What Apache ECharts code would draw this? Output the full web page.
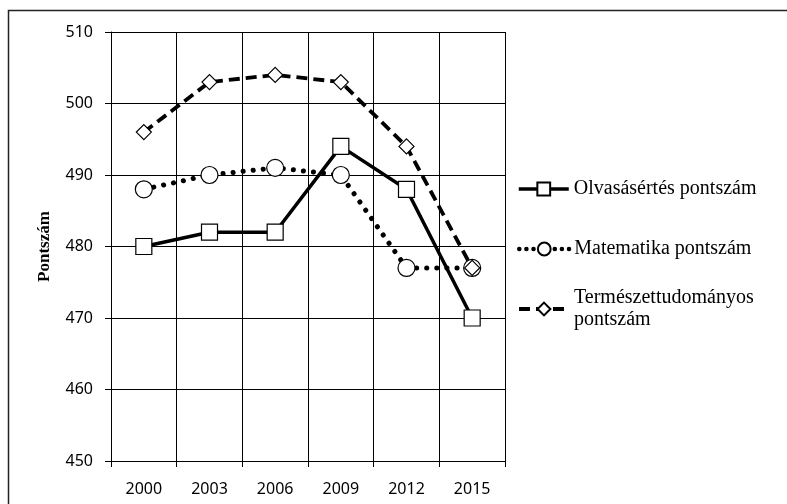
<!DOCTYPE html>
<html>
<head>
<meta charset="utf-8">
<script src="https://cdn.jsdelivr.net/npm/echarts@6/dist/echarts.min.js"></script>
<style>
  html, body { margin: 0; padding: 0; background: #fff; }
</style>
</head>
<body>
<div id="chart" style="width: 787px; height: 504px;"></div>
<script>
// PISA pontszámok
var years = ['2000', '2003', '2006', '2009', '2012', '2015'];
var olvasas = [480, 482, 482, 494, 488, 470];
var matek = [488, 490, 491, 490, 477, 477];
var termtud = [496, 503, 504, 503, 494, 477];
var seriesNames = ['Olvasásértés pontszám', 'Matematika pontszám', 'Természettudományos\npontszám'];

var myChart = echarts.init(document.getElementById('chart'));
var serif = '"Liberation Serif", "DejaVu Serif", serif';
var sans = '"Noto Sans", sans-serif';

var legendBase = {
    orient: 'vertical',
    left: 517,
    itemWidth: 50,
    itemHeight: 16,
    padding: 0,
    textStyle: { fontFamily: serif, fontSize: 20, color: '#000' }
};

var option = {
    backgroundColor: '#fff',
    animation: false,
    graphic: [{
        type: 'rect',
        shape: { x: 8.5, y: 10.5, width: 800, height: 520 },
        style: { fill: 'none', stroke: '#222', lineWidth: 1.5 },
        silent: true
    }],
    grid: { left: 111, top: 32, right: 282, bottom: 43 },
    legend: [
        Object.assign({}, legendBase, {
            top: 179, data: [seriesNames[0]],
            lineStyle: { width: 3.5 }
        }),
        Object.assign({}, legendBase, {
            top: 239, data: [seriesNames[1]],
            lineStyle: { width: 4.5, type: [0.1, 7], cap: 'round' }
        }),
        Object.assign({}, legendBase, {
            top: 276, data: [seriesNames[2]],
            lineStyle: { width: 4, type: [11, 6] },
            textStyle: { fontFamily: serif, fontSize: 20, color: '#000', lineHeight: 22, padding: [22, 0, 0, 0] }
        })
    ],
    xAxis: {
        type: 'category',
        data: years,
        boundaryGap: true,
        axisLine: { lineStyle: { color: '#000', width: 1 } },
        axisTick: { show: true, length: 6, lineStyle: { color: '#000' } },
        splitLine: { show: true, lineStyle: { color: '#000', width: 1 } },
        axisLabel: { fontFamily: sans, fontSize: 16, color: '#000', margin: 20 }
    },
    yAxis: {
        type: 'value',
        min: 450,
        max: 510,
        interval: 10,
        name: 'Pontszám',
        nameLocation: 'middle',
        nameGap: 58,
        nameTextStyle: { fontFamily: serif, fontSize: 17, fontWeight: 'bold', color: '#000' },
        axisLine: { show: true, lineStyle: { color: '#000', width: 1 } },
        axisTick: { show: true, length: 6, lineStyle: { color: '#000' } },
        splitLine: { show: true, lineStyle: { color: '#000', width: 1 } },
        axisLabel: { fontFamily: sans, fontSize: 16, color: '#000', margin: 18 }
    },
    series: [
        {
            name: seriesNames[0],
            type: 'line',
            data: olvasas,
            symbol: 'rect',
            symbolSize: 16,
            lineStyle: { color: '#000', width: 3.5 },
            itemStyle: { color: '#fff', borderColor: '#000', borderWidth: 1.2 },
            z: 3
        },
        {
            name: seriesNames[1],
            type: 'line',
            data: matek,
            symbol: 'circle',
            symbolSize: 17,
            lineStyle: { color: '#000', width: 5, type: [0.1, 10], cap: 'round' },
            itemStyle: { color: '#fff', borderColor: '#000', borderWidth: 1.2 },
            z: 2
        },
        {
            name: seriesNames[2],
            type: 'line',
            data: termtud,
            symbol: 'diamond',
            symbolSize: 15,
            lineStyle: { color: '#000', width: 3.8, type: [11, 6] },
            itemStyle: { color: '#fff', borderColor: '#000', borderWidth: 1.2 },
            z: 4
        }
    ]
};
myChart.setOption(option);
</script>
</body>
</html>
